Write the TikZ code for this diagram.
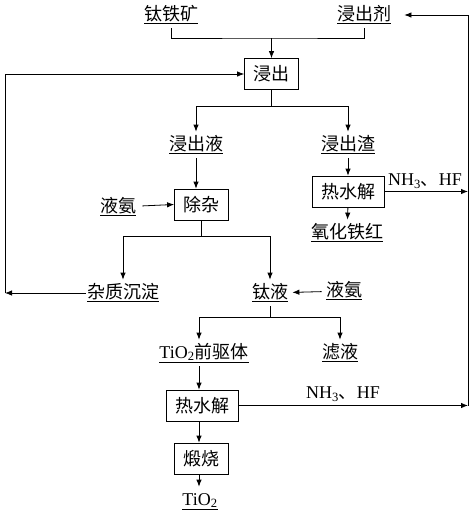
\documentclass[tikz,border=0pt]{standalone}
\usepackage{fontspec}
\setmainfont{Liberation Serif}
\newfontfamily\cjk{Noto Sans CJK SC}
\usetikzlibrary{arrows.meta}
\tikzset{box/.style = {draw, inner xsep=9pt, minimum height=31pt},
         lbl/.style = {inner xsep=1pt, inner ysep=4pt, text height=14pt, text depth=4pt},
         flow/.style = {-{Latex[length=7pt, width=5.5pt]}}}

\begin{document}
\begin{tikzpicture}[x=1pt, y=-1pt, line width=0.8pt,
                    every node/.style={font=\fontsize{18}{22}\selectfont\cjk}]
    \useasboundingbox (0,0) rectangle (474,520);

    \node [lbl] (ore) at (171,15) {\underline{钛铁矿}};
    \node [lbl] (agent) at (364,15) {\underline{浸出剂}};
    \node [box] (leach) at (271.5,74) {浸出};
    \node [lbl] (liquor) at (196,145) {\underline{浸出液}};
    \node [lbl] (residue) at (348,145) {\underline{浸出渣}};
    \node [box] (purify) at (201.5,204.5) {除杂};
    \node [lbl] (ammonia1) at (118,207) {\underline{液氨}};
    \node [box] (hydro1) at (348.5,191.5) {热水解};
    \node [lbl] (redoxide) at (347,233) {\underline{氧化铁红}};
    \node [lbl] (precip) at (123,293) {\underline{杂质沉淀}};
    \node [lbl] (tisol) at (270,293) {\underline{钛液}};
    \node [lbl] (ammonia2) at (344,291) {\underline{液氨}};
    \node [lbl] (precursor) at (204,353) {\underline{\rmfamily TiO\textsubscript{2}\cjk 前驱体}};
    \node [lbl] (filtrate) at (340,353) {\underline{滤液}};
    \node [box] (hydro2) at (202.5,405.5) {热水解};
    \node [box] (calcine) at (201,458.5) {煅烧};
    \node [lbl] (product) at (200,500) {\underline{\rmfamily TiO\textsubscript{2}}};
    \node (gas1) at (425,181) {\rmfamily NH\textsubscript{3}\cjk 、\rmfamily HF};
    \node (gas2) at (343,394) {\rmfamily NH\textsubscript{3}\cjk 、\rmfamily HF};

    \coordinate (top) at (271.5,38);
    \coordinate (loop) at (5,293);
    \coordinate (rail) at (468,0);
    \coordinate (axis) at (199,0);

    % leaching
    \draw (ore.south) |- (top) -| (agent.south);
    \draw [flow] (top) -- (leach.north);
    \draw (leach.south) -- ++(0,16) coordinate (s1);
    \draw [flow] (s1) -| (liquor.north);
    \draw [flow] (s1) -| (residue.north);

    % left branch
    \draw [flow] (liquor.south) -- (liquor.south |- purify.north);
    \draw [flow, shorten <=5pt] (ammonia1) -- (purify.west);
    \draw (purify.south) -- ++(0,16) coordinate (s2);
    \draw [flow] (s2) -| (precip.north);
    \draw [flow] (s2) -| (tisol.north);
    \draw [flow] (precip.west) -- (loop);
    \draw [flow] (loop) |- (leach.west);
    \draw [flow, shorten <=3pt, shorten >=3pt] (ammonia2) -- (tisol);

    % residue
    \draw [flow] (residue.south) -- (residue.south |- hydro1.north);
    \draw [flow] (hydro1) -- (redoxide);
    \draw [flow] (hydro1.east) -- (hydro1.east -| rail);

    % titanium liquor
    \draw (tisol.south) -- ++(0,11) coordinate (s3);
    \draw [flow] (s3) -| (axis |- precursor.north);
    \draw [flow] (s3) -| (filtrate.north);
    \draw [flow] (axis |- precursor.south) -- (axis |- hydro2.north);
    \draw [flow] (axis |- hydro2.south) -- (axis |- calcine.north);
    \draw [flow] (axis |- calcine.south) -- (axis |- product.north);
    \draw [flow] (hydro2.east) -- (hydro2.east -| rail);
    \draw [flow, shorten >=12pt] (hydro2.east -| rail) |- (agent.east);
\end{tikzpicture}
\end{document}
